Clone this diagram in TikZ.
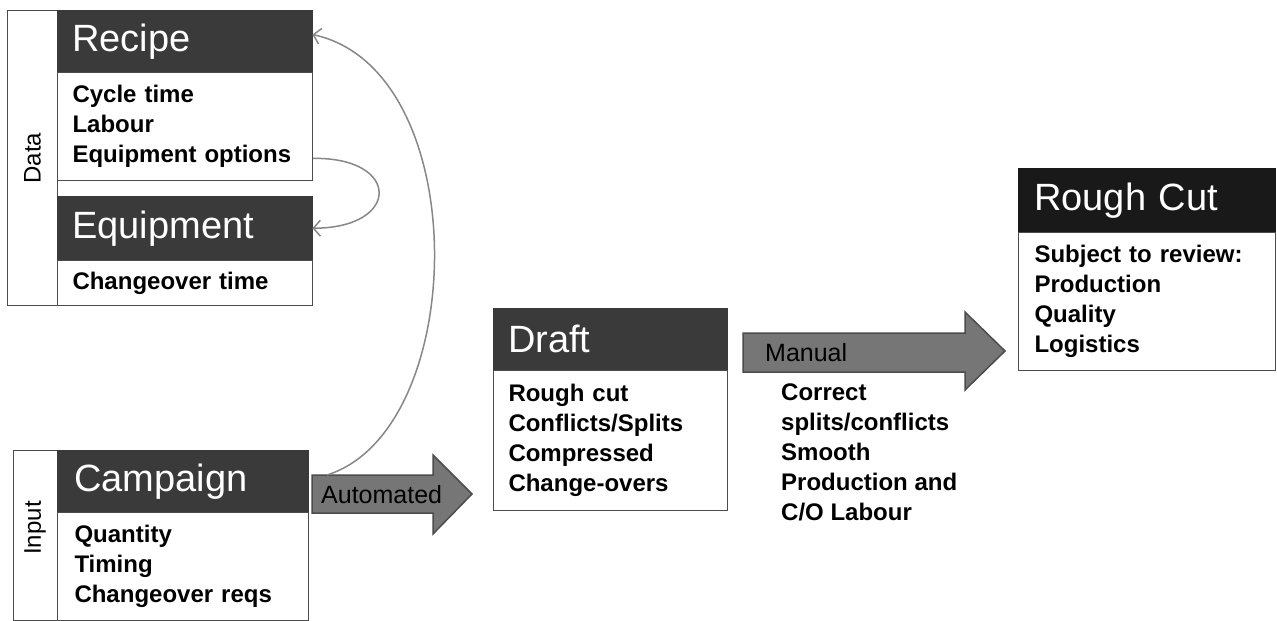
\documentclass[tikz,border=0pt]{standalone}
\usepackage{fontspec}
\setmainfont{Liberation Sans}
\usetikzlibrary{arrows.meta}

\definecolor{hdrgray}{RGB}{58,58,58}
\definecolor{arrowfill}{RGB}{118,118,118}
\definecolor{linkgray}{RGB}{135,135,135}

\tikzset{
  hdr/.style={rectangle, anchor=north west, fill=hdrgray, draw=hdrgray, text=white, inner xsep=15pt, inner ysep=0pt, align=left, font=\fontsize{38}{40}\selectfont},
  txtbox/.style={rectangle, anchor=north west, draw=black!70, line width=1pt, fill=white, inner xsep=15pt, inner ysep=0pt, align=left, font=\bfseries\fontsize{24}{30}\selectfont},
  sidebox/.style={rectangle, anchor=north west, draw=black!70, line width=1pt, inner sep=0pt},
  sidelabel/.style={rotate=90, inner sep=0pt, font=\fontsize{24}{26}\selectfont},
  blockarrow/.style={fill=arrowfill, draw=black!70, line width=1.5pt, line join=miter},
  arrowlabel/.style={anchor=west, inner sep=0pt, font=\fontsize{25}{27}\selectfont},
  notes/.style={anchor=west, inner sep=0pt, align=left, font=\bfseries\fontsize{24}{30}\selectfont},
  link/.style={draw=linkgray, line width=1.5pt, -{Straight Barb[length=7pt,width=16pt]}},
}

\begin{document}
\begin{tikzpicture}[x=1pt, y=-1pt]
\useasboundingbox (0,0) rectangle (1277,621);

% data
\node[sidebox, minimum width=50pt, minimum height=295pt] (data) at (7,10) {};
\node[sidelabel] (datalbl) at (data.center) {Data};
\node[hdr, minimum width=255pt, minimum height=62pt, text width=225pt] (recipe) at (57,10) {Recipe};
\node[txtbox, minimum width=255pt, minimum height=108pt, text width=225pt] (recipeb) at (57,72) {Cycle time\\Labour\\Equipment options};
\node[hdr, minimum width=255pt, minimum height=64pt, text width=225pt] (equip) at (57,196) {Equipment};
\node[txtbox, minimum width=255pt, minimum height=45pt, text width=225pt] (equipb) at (57,260) {Changeover time};

% input
\node[sidebox, minimum width=44pt, minimum height=170pt] (input) at (13,450) {};
\node[sidelabel] (inputlbl) at (35,528) {Input};
\node[hdr, minimum width=251pt, minimum height=62pt, text width=217pt, inner xsep=17pt] (campaign) at (57,450) {Campaign};
\node[txtbox, minimum width=251pt, minimum height=108pt, text width=217pt, inner xsep=17pt] (campaignb) at (57,512) {Quantity\\Timing\\Changeover reqs};

% draft
\node[hdr, minimum width=234pt, minimum height=62pt, text width=204pt] (draft) at (493,308) {Draft};
\node[txtbox, minimum width=234pt, minimum height=140pt, text width=204pt] (draftb) at (493,370) {Rough cut\\Conflicts/Splits\\Compressed\\Change-overs};

% rough cut
\node[hdr, minimum width=257pt, minimum height=64pt, text width=225pt, inner xsep=16pt, fill=black!90, draw=black!90] (rough) at (1018,168) {Rough Cut};
\node[txtbox, minimum width=257pt, minimum height=138pt, text width=225pt, inner xsep=16pt] (roughb) at (1018,232) {Subject to review:\\Production\\Quality\\Logistics};

% block arrows
\draw[blockarrow] (312,475) -- (433,475) -- (433,455) -- (472,494) -- (433,534) -- (433,513) -- (312,513) -- cycle;
\node[arrowlabel] (auto) at (321,495) {Automated};
\draw[blockarrow] (743,333) -- (965,333) -- (965,312) -- (1005,351) -- (965,390) -- (965,372) -- (743,372) -- cycle;
\node[arrowlabel] (manual) at (765,353) {Manual};
\node[notes] (fixes) at (781,452) {Correct\\splits/conflicts\\Smooth\\Production and\\C/O Labour};

% links
\coordinate (autotop) at (327,475);
\draw[link] (autotop) .. controls (470,430) and (475,70) .. (recipe.3);
\draw[link] (recipeb.-14) .. controls (401,157) and (401,228) .. (equip.east);
\end{tikzpicture}
\end{document}
